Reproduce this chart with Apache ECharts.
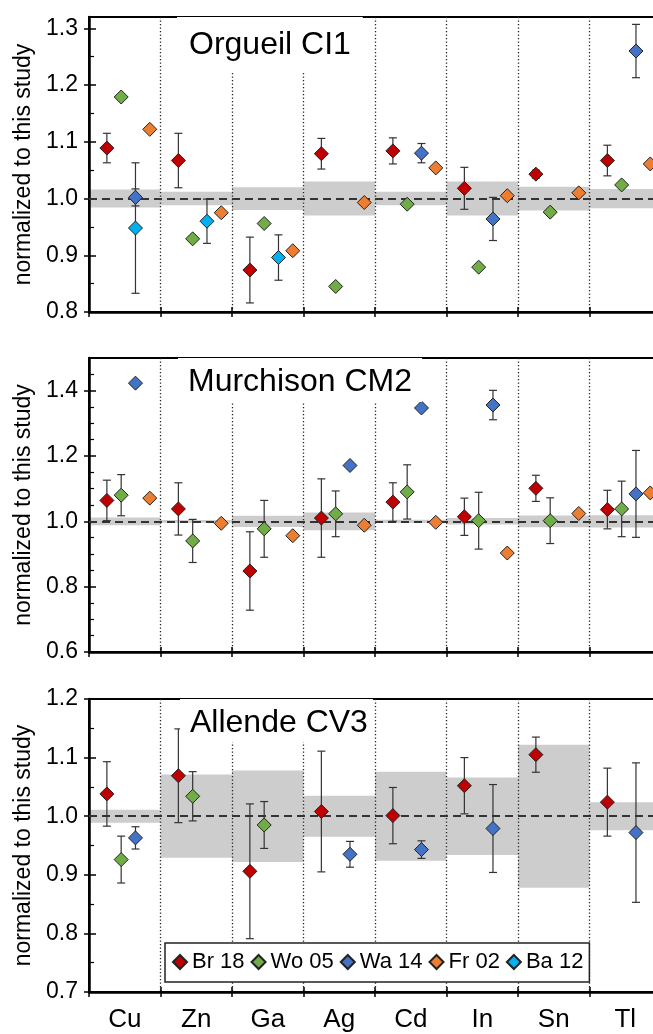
<!DOCTYPE html>
<html><head><meta charset="utf-8">
<script src="https://cdn.jsdelivr.net/npm/echarts@6/dist/echarts.min.js"></script>
<style>html,body{margin:0;padding:0;background:#fff;overflow:hidden}#c{width:672px;height:1034px}</style>
</head><body><div id="c"></div>
<script>
// ---------- data ----------
const categories = ['Cu', 'Zn', 'Ga', 'Ag', 'Cd', 'In', 'Sn', 'Tl'];
const seriesNames = ['Br 18', 'Wo 05', 'Wa 14', 'Fr 02', 'Ba 12'];
const seriesColors = ['#c00000', '#70ad47', '#4472c4', '#ed7d31', '#00b0f0'];
const seriesOffsets = [0.25, 0.45, 0.65, 0.85, 0.65];
const panelTitles = ['Orgueil CI1', 'Murchison CM2', 'Allende CV3'];
const yAxisTitle = 'normalized to this study';

// Orgueil CI1
const orgBr    = [1.089, 1.067, 0.874, 1.079, 1.084, 1.018, 1.043, 1.067];
const orgBrErr = [0.026, 0.048, 0.058, 0.027, 0.023, 0.037, 0.007, 0.027];
const orgWo    = [1.179, 0.929, 0.956, 0.845, 0.990, 0.879, 0.976, 1.024];
const orgWoErr = [null, null, null, null, null, null, null, null];
const orgWa    = [1.002, null, null, null, 1.080, 0.964, null, 1.260];
const orgWaErr = [0.015, null, null, null, 0.017, 0.038, null, 0.047];
const orgFr    = [1.122, 0.975, 0.908, 0.993, 1.054, 1.005, 1.010, 1.061];
const orgFrErr = [null, null, null, null, null, null, null, null];
const orgBa    = [0.948, 0.960, 0.896, null, null, null, null, null];
const orgBaErr = [0.115, 0.039, 0.040, null, null, null, null, null];
const orgBand  = [0.016, 0.012, 0.020, 0.030, 0.012, 0.030, 0.021, 0.017];

// Murchison CM2
const murBr    = [1.064, 1.038, 0.848, 1.010, 1.059, 1.014, 1.101, 1.036];
const murBrErr = [0.062, 0.080, 0.120, 0.120, 0.059, 0.057, 0.040, 0.059];
const murWo    = [1.080, 0.940, 0.977, 1.023, 1.090, 1.002, 1.002, 1.038];
const murWoErr = [0.063, 0.066, 0.087, 0.070, 0.083, 0.087, 0.070, 0.085];
const murWa    = [1.423, null, null, 1.171, 1.347, 1.356, null, 1.084];
const murWaErr = [null, null, null, null, null, 0.045, null, 0.133];
const murFr    = [1.071, 0.994, 0.956, 0.988, 0.997, 0.903, 1.024, 1.087];
const murFrErr = [null, null, null, null, null, null, null, null];
const murBa    = [null, null, null, null, null, null, null, null];
const murBaErr = [null, null, null, null, null, null, null, null];
const murBand  = [0.012, 0.004, 0.017, 0.027, 0.005, 0.010, 0.018, 0.019];

// Allende CV3
const allBr    = [1.038, 1.069, 0.906, 1.008, 1.001, 1.052, 1.105, 1.024];
const allBrErr = [0.055, 0.080, 0.115, 0.103, 0.048, 0.048, 0.030, 0.058];
const allWo    = [0.926, 1.034, 0.985, null, null, null, null, null];
const allWoErr = [0.040, 0.042, 0.040, null, null, null, null, null];
const allWa    = [0.963, null, null, 0.935, 0.943, 0.979, null, 0.972];
const allWaErr = [0.019, null, null, 0.022, 0.015, 0.075, null, 0.119];
const allFr    = [null, null, null, null, null, null, null, null];
const allFrErr = [null, null, null, null, null, null, null, null];
const allBa    = [null, null, null, null, null, null, null, null];
const allBaErr = [null, null, null, null, null, null, null, null];
const allBand  = [0.011, 0.071, 0.078, 0.035, 0.076, 0.066, 0.122, 0.024];

// axis ranges and tick labels
const yRanges = [[0.8, 1.32], [0.6, 1.5], [0.7, 1.2]];
const yMajorTicks = [
  [0.8, 0.9, 1.0, 1.1, 1.2, 1.3],
  [0.6, 0.8, 1.0, 1.2, 1.4],
  [0.7, 0.8, 0.9, 1.0, 1.1, 1.2]
];
const yMinorTicks = [
  [0.85, 0.95, 1.05, 1.15, 1.25],
  [0.65, 0.7, 0.75, 0.85, 0.9, 0.95, 1.05, 1.1, 1.15, 1.25, 1.3, 1.35, 1.45],
  [0.75, 0.85, 0.95, 1.05, 1.15]
];

// ---------- build ----------
const panels = [
  { vals: [orgBr, orgWo, orgWa, orgFr, orgBa], errs: [orgBrErr, orgWoErr, orgWaErr, orgFrErr, orgBaErr], band: orgBand },
  { vals: [murBr, murWo, murWa, murFr, murBa], errs: [murBrErr, murWoErr, murWaErr, murFrErr, murBaErr], band: murBand },
  { vals: [allBr, allWo, allWa, allFr, allBa], errs: [allBrErr, allWoErr, allWaErr, allFrErr, allBaErr], band: allBand }
];
const FONT = '"Liberation Sans", Arial, sans-serif';
const grids = [
  { left: 89, top: 17, width: 572, height: 295 },
  { left: 89, top: 358, width: 572, height: 294 },
  { left: 89, top: 699, width: 572, height: 293 }
].map(g => Object.assign(g, { show: true, borderColor: '#000', borderWidth: 2, backgroundColor: 'transparent' }));

const xAxis = [], yAxis = [], series = [];
panels.forEach((pn, p) => {
  xAxis.push({
    gridIndex: p, type: 'category', data: categories, boundaryGap: true, position: 'bottom', z: 3,
    axisLine: { onZero: false, lineStyle: { color: '#000', width: 2.5 } },
    axisTick: { show: false },
    axisLabel: { show: p === 2, interval: 0, fontSize: 26, color: '#000', margin: 15, fontFamily: FONT },
    splitLine: { show: true, interval: 0, lineStyle: { color: '#222', width: 1.3, type: [1.3, 2.2] } }
  });
  xAxis.push({
    gridIndex: p, type: 'category', data: categories, boundaryGap: true, position: 'bottom', offset: -5, z: 3,
    axisLine: { show: false, onZero: false },
    axisTick: { show: true, interval: 0, length: 10, lineStyle: { color: '#000', width: 1.5 } },
    axisLabel: { show: false }, splitLine: { show: false }
  });
  xAxis.push({ gridIndex: p, type: 'value', min: 0, max: categories.length, show: false, position: 'bottom',
    axisLine: { onZero: false } });

  const [ymin, ymax] = yRanges[p];
  yAxis.push({
    gridIndex: p, type: 'value', min: ymin, max: ymax, position: 'left', z: 3,
    axisLine: { show: true, onZero: false, lineStyle: { color: '#000', width: 2.5 } },
    axisTick: { show: false }, splitLine: { show: false },
    axisLabel: { customValues: yMajorTicks[p], formatter: v => v.toFixed(1), fontSize: 23, color: '#000', margin: 11, fontFamily: FONT },
    name: yAxisTitle, nameLocation: 'middle', nameGap: 53,
    nameTextStyle: { fontSize: 23, color: '#000', fontFamily: FONT }
  });
  yAxis.push({
    gridIndex: p, type: 'value', min: ymin, max: ymax, position: 'left', offset: -7, z: 3,
    axisLine: { show: false, onZero: false }, axisLabel: { show: false }, splitLine: { show: false },
    axisTick: { show: true, length: 12, customValues: yMajorTicks[p], lineStyle: { color: '#000', width: 1.5 } }
  });
  yAxis.push({
    gridIndex: p, type: 'value', min: ymin, max: ymax, position: 'left', offset: -5, z: 3,
    axisLine: { show: false, onZero: false }, axisLabel: { show: false }, splitLine: { show: false },
    axisTick: { show: true, length: 5, customValues: yMinorTicks[p], lineStyle: { color: '#000', width: 1.2 } }
  });

  const xi = p * 3 + 2, yi = p * 3;
  // uncertainty bands of this study + reference line at 1
  series.push({
    type: 'custom', xAxisIndex: xi, yAxisIndex: yi, z: 1, silent: true,
    data: pn.band.map((b, i) => [i, i + 1, 1 - b, 1 + b]),
    encode: { x: [0, 1], y: [2, 3] },
    renderItem: (params, api) => {
      const a = api.coord([api.value(0), api.value(3)]);
      const b = api.coord([api.value(1), api.value(2)]);
      return { type: 'rect', shape: { x: a[0], y: a[1], width: b[0] - a[0], height: b[1] - a[1] },
        style: { fill: '#cdcdcd' } };
    },
    markLine: { silent: true, symbol: 'none', label: { show: false }, animation: false,
      lineStyle: { color: '#333', width: 2, type: [8, 5] }, data: [{ yAxis: 1 }] }
  });
  // error bars
  const errData = [];
  pn.vals.forEach((arr, s) => arr.forEach((v, i) => {
    const e = pn.errs[s][i];
    if (v != null && e != null) errData.push([i + seriesOffsets[s], v, e]);
  }));
  series.push({
    type: 'custom', xAxisIndex: xi, yAxisIndex: yi, z: 5, silent: true,
    data: errData, encode: { x: 0, y: 1 },
    renderItem: (params, api) => {
      const x = api.value(0), v = api.value(1), e = api.value(2);
      const t = api.coord([x, v + e]), b = api.coord([x, v - e]);
      const st = { stroke: '#333', lineWidth: 1.2 };
      return { type: 'group', children: [
        { type: 'line', shape: { x1: t[0], y1: t[1], x2: b[0], y2: b[1] }, style: st },
        { type: 'line', shape: { x1: t[0] - 4, y1: t[1], x2: t[0] + 4, y2: t[1] }, style: st },
        { type: 'line', shape: { x1: b[0] - 4, y1: b[1], x2: b[0] + 4, y2: b[1] }, style: st }
      ] };
    }
  });
  // diamonds
  pn.vals.forEach((arr, s) => {
    const d = [];
    arr.forEach((v, i) => { if (v != null) d.push([i + seriesOffsets[s], v]); });
    series.push({
      type: 'scatter', name: seriesNames[s], xAxisIndex: xi, yAxisIndex: yi, z: 6,
      symbol: 'diamond', symbolSize: 14, data: d,
      itemStyle: { color: seriesColors[s], borderColor: '#222', borderWidth: 1, opacity: 1 }
    });
  });
});

const titleLayout = [
  { left: 177, top: 17, padding: [12, 12, 11, 12] },
  { left: 178, top: 358, padding: [8, 10, 4, 10] },
  { left: 180, top: 699, padding: [8, 5, 3, 10] }
];
const title = panelTitles.map((t, p) => Object.assign({
  text: t, backgroundColor: '#fff', z: 10,
  textStyle: { fontSize: 32, lineHeight: 32, fontWeight: 'normal', color: '#000', fontFamily: FONT }
}, titleLayout[p]));

const chart = echarts.init(document.getElementById('c'), null, { renderer: 'canvas' });
chart.setOption({
  animation: false,
  backgroundColor: '#fff',
  textStyle: { fontFamily: FONT },
  title,
  grid: grids,
  xAxis, yAxis, series,
  legend: {
    data: seriesNames, left: 165, top: 943, orient: 'horizontal', selectedMode: false,
    icon: 'diamond', itemWidth: 14, itemHeight: 14, itemGap: 6, padding: [8, 6, 9, 7],
    backgroundColor: '#fff', borderColor: '#222', borderWidth: 1.5, z: 10,
    textStyle: { fontSize: 22, color: '#000', fontFamily: FONT }
  }
});
</script></body></html>
